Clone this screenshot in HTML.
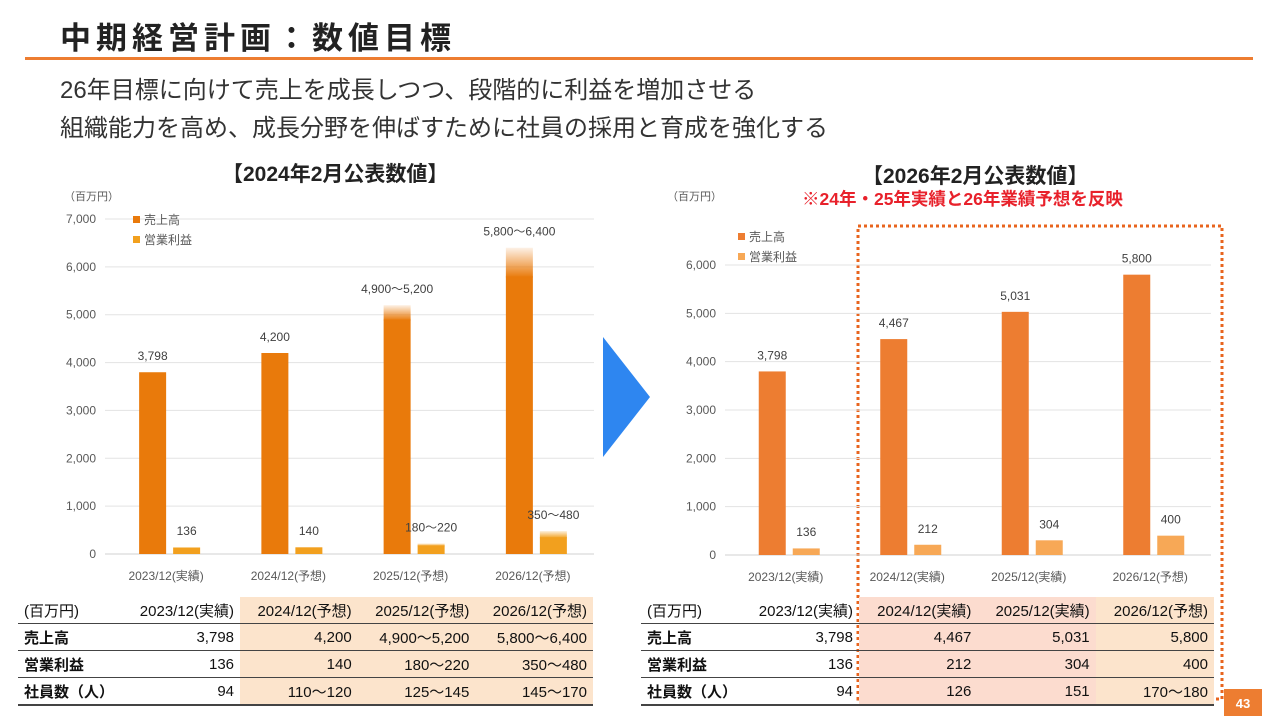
<!DOCTYPE html>
<html><head><meta charset="utf-8"><style>
body{margin:0;width:1280px;height:720px;background:#fff;font-family:"Liberation Sans","Noto Sans CJK JP",sans-serif;position:relative;overflow:hidden;color:#222}
.abs{position:absolute}
table{border-collapse:collapse;position:absolute;font-size:15px;color:#111}
td{height:26px;padding:0 6px;text-align:right;border-bottom:1.5px solid #444;white-space:nowrap}
td.l{text-align:left;font-weight:bold}
tr.h td{font-weight:normal}
tr:last-child td{border-bottom:2px solid #444}
</style></head><body>
<div class="abs" style="left:60px;top:13px;font-size:31px;font-weight:bold;letter-spacing:5px;color:#222">中期経営計画：数値目標</div>
<div class="abs" style="left:25px;top:57px;width:1228px;height:3px;background:#ED7D31"></div>
<div class="abs" style="left:60px;top:72px;font-size:24px;line-height:38px;color:#333">26年目標に向けて売上を成長しつつ、段階的に利益を増加させる<br>組織能力を高め、成長分野を伸ばすために社員の採用と育成を強化する</div>
<div class="abs" style="left:222px;top:158px;font-size:21px;font-weight:bold">【2024年2月公表数値】</div>
<div class="abs" style="left:862px;top:160px;font-size:21px;font-weight:bold">【2026年2月公表数値】</div>
<div class="abs" style="left:802px;top:186px;font-size:17.5px;font-weight:bold;color:#E8212B">※24年・25年実績と26年業績予想を反映</div>
<svg class="abs" style="left:0;top:0" width="1280" height="720" id="svg">
<defs>
<linearGradient id="fadeL" x1="0" y1="1" x2="0" y2="0"><stop offset="0" stop-color="#E97A0B"/><stop offset="1" stop-color="#E97A0B" stop-opacity="0.1"/></linearGradient>
<linearGradient id="fadeP" x1="0" y1="1" x2="0" y2="0"><stop offset="0" stop-color="#F2A01E"/><stop offset="1" stop-color="#F2A01E" stop-opacity="0.15"/></linearGradient>
</defs>
<polygon points="603,337 650,397 603,457" fill="#2E86F0"/>
<rect x="858" y="226" width="364" height="473" fill="none" stroke="#E8641E" stroke-width="3" stroke-dasharray="3,3"/>
<rect x="1224" y="689" width="38" height="27" fill="#ED7D31"/>
<text x="1243" y="708" text-anchor="middle" font-size="13" font-weight="bold" fill="#fff">43</text>
</svg>
<table style="left:18px;top:597px;width:575px">
<tr class="h"><td class="l" style="width:88px;font-weight:normal">(百万円)</td><td style="width:108px">2023/12(実績)</td><td style="background:#FCE4CC">2024/12(予想)</td><td style="background:#FCE4CC">2025/12(予想)</td><td style="background:#FCE4CC">2026/12(予想)</td></tr>
<tr><td class="l">売上高</td><td>3,798</td><td style="background:#FCE4CC">4,200</td><td style="background:#FCE4CC">4,900～5,200</td><td style="background:#FCE4CC">5,800～6,400</td></tr>
<tr><td class="l">営業利益</td><td>136</td><td style="background:#FCE4CC">140</td><td style="background:#FCE4CC">180～220</td><td style="background:#FCE4CC">350～480</td></tr>
<tr><td class="l">社員数（人）</td><td>94</td><td style="background:#FCE4CC">110～120</td><td style="background:#FCE4CC">125～145</td><td style="background:#FCE4CC">145～170</td></tr>
</table>
<table style="left:641px;top:597px;width:573px">
<tr class="h"><td class="l" style="width:92px;font-weight:normal">(百万円)</td><td style="width:102px">2023/12(実績)</td><td style="background:#FCDCCF">2024/12(実績)</td><td style="background:#FCDCCF">2025/12(実績)</td><td style="background:#FCE4CC">2026/12(予想)</td></tr>
<tr><td class="l">売上高</td><td>3,798</td><td style="background:#FCDCCF">4,467</td><td style="background:#FCDCCF">5,031</td><td style="background:#FCE4CC">5,800</td></tr>
<tr><td class="l">営業利益</td><td>136</td><td style="background:#FCDCCF">212</td><td style="background:#FCDCCF">304</td><td style="background:#FCE4CC">400</td></tr>
<tr><td class="l">社員数（人）</td><td>94</td><td style="background:#FCDCCF">126</td><td style="background:#FCDCCF">151</td><td style="background:#FCE4CC">170～180</td></tr>
</table>
<script>
const leftCats=["2023/12(実績)","2024/12(予想)","2025/12(予想)","2026/12(予想)"];
const leftSalesLo=[3798,4200,4900,5800];
const leftSalesHi=[3798,4200,5200,6400];
const leftProfitLo=[136,140,180,350];
const leftProfitHi=[136,140,220,480];
const leftSalesLbl=["3,798","4,200","4,900～5,200","5,800～6,400"];
const leftProfitLbl=["136","140","180～220","350～480"];
const leftTicks=[0,1000,2000,3000,4000,5000,6000,7000];
const rightCats=["2023/12(実績)","2024/12(実績)","2025/12(実績)","2026/12(予想)"];
const rightSales=[3798,4467,5031,5800];
const rightProfit=[136,212,304,400];
const rightTicks=[0,1000,2000,3000,4000,5000,6000];

const svg=document.getElementById('svg');
const NS="http://www.w3.org/2000/svg";
function mk(tag,attrs,txt){const e=document.createElementNS(NS,tag);for(const k in attrs)e.setAttribute(k,attrs[k]);if(txt!==undefined)e.textContent=txt;svg.appendChild(e);return e;}
function fmt(v){return v.toLocaleString('en-US');}

function chart(o){
  const y=v=>o.y0-v*o.ppu;
  const cw=(o.x1-o.x0)/o.cats.length;
  const cx=i=>o.x0+cw*(i+0.5);
  o.ticks.forEach(t=>{
    const g=mk('line',{x1:o.x0,x2:o.x1,y1:y(t),y2:y(t),stroke:t===0?'#d0d0d0':'#e3e3e3','stroke-width':1});
    
    
    const l=mk('text',{x:o.x0-9,y:y(t)+4,'text-anchor':'end','font-size':12,fill:'#595959'},fmt(t));
    
    
  });
  o.cats.forEach((c,i)=>{
    const l=mk('text',{x:cx(i),y:o.y0+26,'text-anchor':'middle','font-size':12,fill:'#595959'},c);
    
    
    const sx=cx(i)-o.bw, px=cx(i)+7;
    const s=mk('rect',{x:sx,y:y(o.sLo[i]),width:o.bw,height:o.sLo[i]*o.ppu,fill:o.sc});
    
    
    if(o.sHi[i]>o.sLo[i]){
      const f=mk('rect',{x:sx,y:y(o.sHi[i]),width:o.bw,height:(o.sHi[i]-o.sLo[i])*o.ppu+1,fill:'url(#fadeL)'});
      
      
    }
    const p=mk('rect',{x:px,y:y(o.pLo[i]),width:o.bw,height:o.pLo[i]*o.ppu,fill:o.pc});
    
    
    if(o.pHi[i]>o.pLo[i]){
      const f=mk('rect',{x:px,y:y(o.pHi[i]),width:o.bw,height:(o.pHi[i]-o.pLo[i])*o.ppu+1,fill:'url(#fadeP)'});
      
      
    }
    const sl=mk('text',{x:sx+o.bw/2,y:y(o.sHi[i])-12,'text-anchor':'middle','font-size':12,fill:'#404040'},o.sLbl[i]);
    
    
    const pl=mk('text',{x:px+o.bw/2,y:Math.min(y(o.pHi[i])-12,o.y0-19),'text-anchor':'middle','font-size':12,fill:'#404040'},o.pLbl[i]);
    
    
  });
  const u=mk('text',{x:o.unitX,y:o.unitY,'font-size':11,fill:'#595959'},'（百万円）');
  
  
  [['売上高',o.sc],['営業利益',o.pc]].forEach((e,k)=>{
    const r=mk('rect',{x:o.legX,y:o.legY+k*20-8,width:7,height:7,fill:e[1]});
    
    
    const t=mk('text',{x:o.legX+11,y:o.legY+k*20,'font-size':12,fill:'#595959'},e[0]);
    
    
  });
}
chart({x0:105,x1:594,y0:554,ppu:335/7000,bw:27,cats:leftCats,sLo:leftSalesLo,sHi:leftSalesHi,pLo:leftProfitLo,pHi:leftProfitHi,sLbl:leftSalesLbl,pLbl:leftProfitLbl,ticks:leftTicks,sc:'#E97A0B',pc:'#F2A01E',unitX:64,unitY:200,legX:133,legY:224});
chart({x0:725,x1:1211,y0:555,ppu:290/6000,bw:27,cats:rightCats,sLo:rightSales,sHi:rightSales,pLo:rightProfit,pHi:rightProfit,sLbl:rightSales.map(fmt),pLbl:rightProfit.map(fmt),ticks:rightTicks,sc:'#ED7D31',pc:'#F7A856',unitX:667,unitY:200,legX:738,legY:241});
</script>
</body></html>
